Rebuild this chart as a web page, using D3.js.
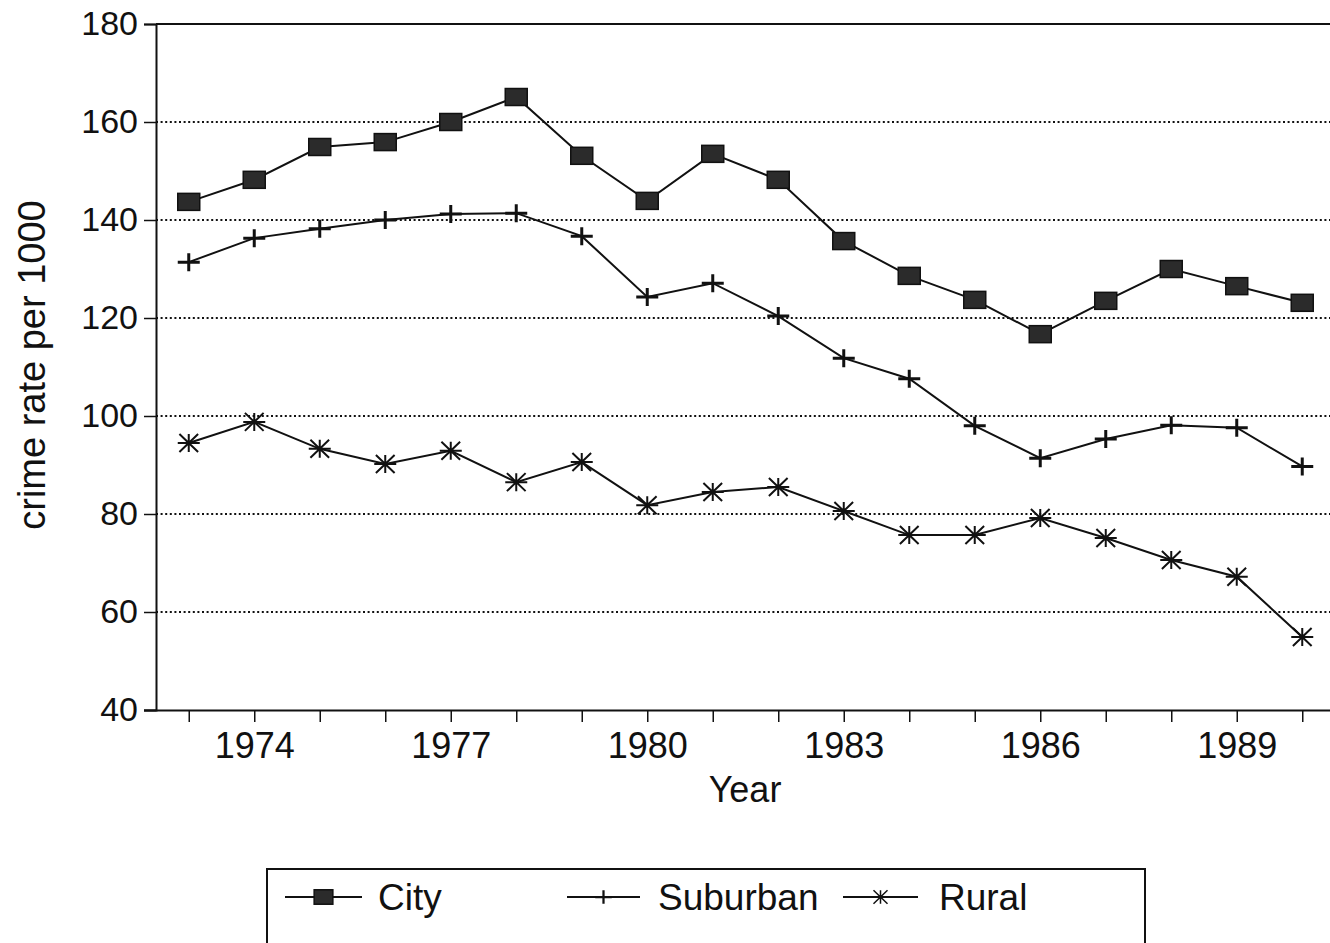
<!DOCTYPE html>
<html>
<head>
<meta charset="utf-8">
<script src="https://cdn.jsdelivr.net/npm/d3@7"></script>
<style>
	body { margin: 0; background: #fff; }
	svg { display: block; }
	text { font-family: "Liberation Sans", Arial, sans-serif; fill: #111; }
</style>
</head>
<body>
<svg id="chart" width="1330" height="943"></svg>
<script>
'use strict';

const years = [1973,1974,1975,1976,1977,1978,1979,1980,1981,1982,1983,1984,1985,1986,1987,1988,1989,1990];
const city     = [143.7,148.2,154.9,155.9,160,165.1,153.1,143.9,153.5,148.2,135.7,128.6,123.7,116.7,123.5,130,126.5,123.1];
const suburban = [131.4,136.3,138.2,140,141.2,141.4,136.7,124.3,127.1,120.4,111.8,107.6,98,91.4,95.3,98.1,97.6,89.7];
const rural    = [94.5,98.8,93.3,90.2,92.9,86.5,90.6,81.8,84.5,85.5,80.6,75.7,75.7,79.2,75.1,70.6,67.2,54.9];
const yTicks = [40,60,80,100,120,140,160,180];
const xLabelYears = [1974,1977,1980,1983,1986,1989];

const series = [
	{name: 'City', values: city, marker: 'square'},
	{name: 'Suburban', values: suburban, marker: 'plus'},
	{name: 'Rural', values: rural, marker: 'star'},
];

const svg = d3.select('#chart');
const plotLeft = 156, plotRight = 1335, plotTop = 24, plotBottom = 710;

const x = d3.scaleLinear().domain([1972.5, 1990.5]).range([plotLeft, plotRight]);
const y = d3.scaleLinear().domain([40, 180]).range([plotBottom, plotTop]);

// dotted grid lines
svg.append('g')
	.selectAll('line')
	.data(yTicks.filter(d => d > 40 && d < 180))
	.enter().append('line')
		.attr('x1', plotLeft).attr('x2', plotRight)
		.attr('y1', d => y(d)).attr('y2', d => y(d))
		.attr('stroke', '#111')
		.attr('stroke-width', 2)
		.attr('stroke-dasharray', '2,2.6');

// top frame line
svg.append('line')
	.attr('x1', plotLeft).attr('x2', plotRight)
	.attr('y1', y(180)).attr('y2', y(180))
	.attr('stroke', '#111').attr('stroke-width', 2);

// y axis
const yAxis = svg.append('g')
	.attr('transform', `translate(${plotLeft},0)`)
	.call(d3.axisLeft(y).tickValues(yTicks).tickSize(12).tickPadding(6).tickFormat(d3.format('d')));
yAxis.select('.domain').attr('stroke', '#111').attr('stroke-width', 2);
yAxis.selectAll('.tick line').attr('stroke', '#111').attr('stroke-width', 1.5);
yAxis.selectAll('.tick text').attr('font-size', 34).attr('fill', '#111')
	.attr('font-family', '"Liberation Sans", Arial, sans-serif');

// x axis
const xAxis = svg.append('g')
	.attr('transform', `translate(0,${plotBottom})`)
	.call(d3.axisBottom(x).tickValues(years).tickSize(12).tickPadding(10)
		.tickFormat(d => xLabelYears.includes(d) ? d : ''));
xAxis.select('.domain').attr('stroke', '#111').attr('stroke-width', 2)
	.attr('d', `M${plotLeft - 12},0.5H${plotRight}`);
xAxis.selectAll('.tick line').attr('stroke', '#111').attr('stroke-width', 1.5);
xAxis.selectAll('.tick text').attr('font-size', 36).attr('fill', '#111')
	.attr('font-family', '"Liberation Sans", Arial, sans-serif');

// axis titles
svg.append('text')
	.attr('x', 745).attr('y', 802)
	.attr('text-anchor', 'middle')
	.attr('font-size', 36)
	.text('Year');

svg.append('text')
	.attr('transform', `translate(45,365) rotate(-90)`)
	.attr('text-anchor', 'middle')
	.attr('font-size', 38)
	.text('crime rate per 1000');

function drawMarker(g, type, cx, cy, s) {
	if (type === 'square') {
		g.append('rect')
			.attr('x', cx - 11 * s).attr('y', cy - 8.5 * s)
			.attr('width', 22 * s).attr('height', 17 * s)
			.attr('fill', '#2b2b2b')
			.attr('stroke', '#111').attr('stroke-width', 1.5);
	} else if (type === 'plus') {
		g.append('path')
			.attr('d', `M${cx - 11 * s},${cy}H${cx + 11 * s}M${cx},${cy - 9 * s}V${cy + 9 * s}`)
			.attr('stroke', '#111').attr('stroke-width', 3 * s);
	} else {
		const r = 11 * s, h = 9 * s;
		g.append('path')
			.attr('d', `M${cx - r},${cy}H${cx + r}M${cx},${cy - h}V${cy + h}` +
				`M${cx - r * 0.85},${cy - h}L${cx + r * 0.85},${cy + h}` +
				`M${cx - r * 0.85},${cy + h}L${cx + r * 0.85},${cy - h}`)
			.attr('stroke', '#111').attr('stroke-width', 2 * s).attr('fill', 'none');
	}
}

const line = d3.line()
	.x((d, i) => x(years[i]))
	.y(d => y(d));

series.forEach(s => {
	const g = svg.append('g');
	g.append('path')
		.datum(s.values)
		.attr('d', line)
		.attr('fill', 'none')
		.attr('stroke', '#111')
		.attr('stroke-width', 2);
	s.values.forEach((v, i) => drawMarker(g, s.marker, x(years[i]), y(v), 1));
});

// legend
const legend = svg.append('g');
legend.append('rect')
	.attr('x', 267).attr('y', 869)
	.attr('width', 878).attr('height', 100)
	.attr('fill', 'none')
	.attr('stroke', '#111').attr('stroke-width', 2);

const legendPos = [
	{x1: 285, x2: 362, tx: 378},
	{x1: 567, x2: 640, tx: 658},
	{x1: 843, x2: 918, tx: 939},
];
series.forEach((s, i) => {
	const p = legendPos[i];
	const ly = 897;
	legend.append('line')
		.attr('x1', p.x1).attr('x2', p.x2)
		.attr('y1', ly).attr('y2', ly)
		.attr('stroke', '#111').attr('stroke-width', 2);
	drawMarker(legend, s.marker, (p.x1 + p.x2) / 2, ly, s.marker === 'square' ? 0.85 : 0.75);
	legend.append('text')
		.attr('x', p.tx).attr('y', 910)
		.attr('font-size', 37)
		.text(s.name);
});
</script>
</body>
</html>
